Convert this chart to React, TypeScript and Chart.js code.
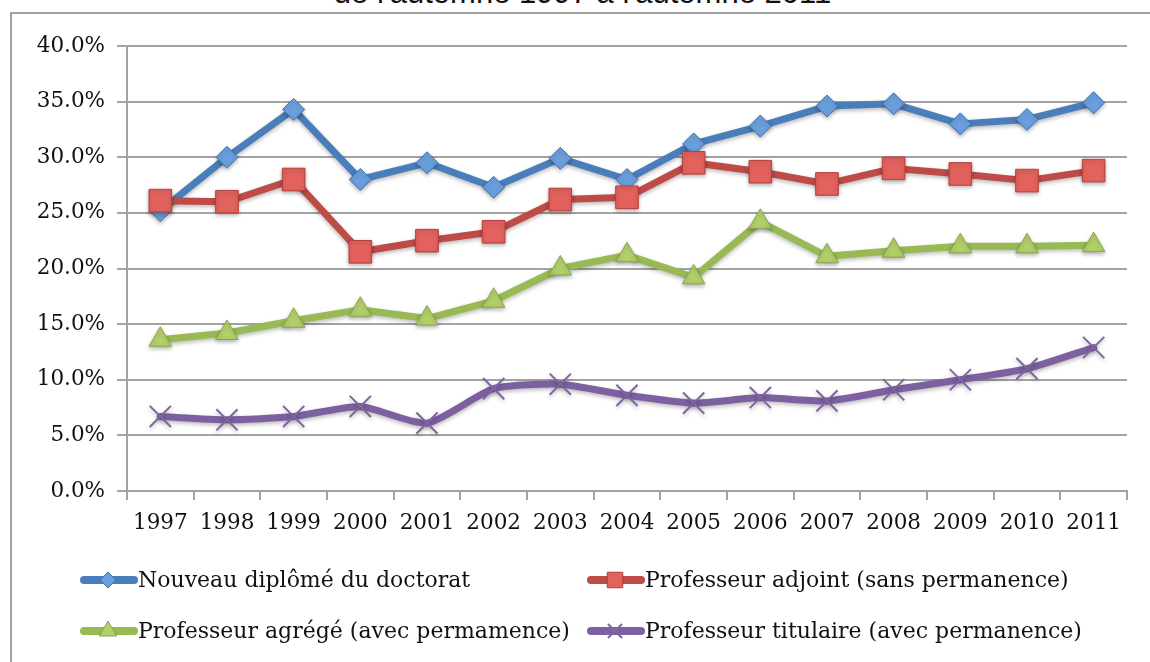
import { useEffect, useRef } from 'react';
import { Chart, registerables } from 'chart.js';
import { drawPoint } from 'chart.js/helpers';

Chart.register(...registerables);

const years = ['1997', '1998', '1999', '2000', '2001', '2002', '2003', '2004', '2005', '2006', '2007', '2008', '2009', '2010', '2011'];
const nouveauDiplome = [25.2, 30.0, 34.3, 28.0, 29.5, 27.3, 29.9, 28.0, 31.2, 32.8, 34.6, 34.8, 33.0, 33.4, 34.9];
const profAdjoint = [26.1, 26.0, 28.0, 21.5, 22.5, 23.3, 26.2, 26.4, 29.5, 28.7, 27.6, 29.0, 28.5, 27.9, 28.8];
const profAgrege = [13.6, 14.2, 15.3, 16.3, 15.5, 17.1, 20.0, 21.2, 19.2, 24.2, 21.1, 21.6, 22.0, 22.0, 22.1];
const profTitulaire = [6.7, 6.4, 6.7, 7.6, 6.1, 9.2, 9.6, 8.6, 7.9, 8.4, 8.1, 9.1, 10.0, 11.0, 12.9];

const seriesNames = [
  'Nouveau diplômé du doctorat',
  'Professeur adjoint (sans permanence)',
  'Professeur agrégé (avec permamence)',
  'Professeur titulaire (avec permanence)',
];
const yTicks = { min: 0, max: 40, step: 5 };
const titleText = "de l'automne 1997 à l'automne 2011";

const GRID = '#a3a3a3';
const FONT_FAMILY = '"DejaVu Serif", serif';
const FONT_SIZE = 21.5;
const LEGEND_FONT_SIZE = 22;
const TEXT = '#111111';

const legendSlots = [
  { x: 80, y: 580 },
  { x: 587, y: 580 },
  { x: 80, y: 631 },
  { x: 587, y: 631 },
];
const legendMarkerRadius = [8, 11, 10, 10];

const legendPlugin = {
  id: 'gridLegend',
  afterDraw(chart: any) {
    const ctx = chart.ctx as CanvasRenderingContext2D;
    chart.data.datasets.forEach((ds: any, i: number) => {
      const slot = legendSlots[i];
      if (!slot) return;
      const x0 = slot.x;
      const x1 = slot.x + 54;
      ctx.save();
      ctx.strokeStyle = ds.borderColor;
      ctx.lineWidth = 8;
      ctx.lineCap = 'round';
      ctx.beginPath();
      ctx.moveTo(x0 + 4, slot.y);
      ctx.lineTo(x1, slot.y);
      ctx.stroke();
      ctx.restore();
      ctx.save();
      ctx.fillStyle = ds.pointBackgroundColor;
      ctx.strokeStyle = ds.pointBorderColor;
      ctx.lineWidth = ds.pointBorderWidth;
      drawPoint(ctx, { pointStyle: ds.pointStyle, radius: legendMarkerRadius[i], borderWidth: ds.pointBorderWidth, rotation: 0 } as any, (x0 + x1) / 2 + 1, slot.y);
      ctx.restore();
      ctx.save();
      ctx.fillStyle = TEXT;
      ctx.font = `${LEGEND_FONT_SIZE}px ${FONT_FAMILY}`;
      ctx.textBaseline = 'middle';
      ctx.textAlign = 'left';
      ctx.fillText(ds.label, x1 + 4, slot.y + 1);
      ctx.restore();
    });
  },
};

const shadowPlugin = {
  id: 'lineShadow',
  beforeDatasetsDraw(chart: any) {
    const ctx = chart.ctx as CanvasRenderingContext2D;
    ctx.save();
    ctx.shadowColor = 'rgba(0,0,0,0.28)';
    ctx.shadowBlur = 4;
    ctx.shadowOffsetY = 2;
    ctx.shadowOffsetX = 0;
  },
  afterDatasetsDraw(chart: any) {
    chart.ctx.restore();
  },
};

export default function App() {
  const ref = useRef<HTMLCanvasElement>(null);

  useEffect(() => {
    const font = { family: FONT_FAMILY, size: FONT_SIZE };
    const chart = new Chart(ref.current!, {
      type: 'line',
      data: {
        labels: years,
        datasets: [
          {
            label: seriesNames[0],
            data: nouveauDiplome,
            borderColor: '#4A7EBB',
            borderWidth: 7,
            pointStyle: 'rectRot',
            pointRadius: 11,
            pointBackgroundColor: '#6A9EDC',
            pointBorderColor: '#3F72AE',
            pointBorderWidth: 1,
            order: 4,
          },
          {
            label: seriesNames[1],
            data: profAdjoint,
            borderColor: '#BE4B48',
            borderWidth: 7,
            pointStyle: 'rect',
            pointRadius: 16,
            pointBackgroundColor: '#E3625E',
            pointBorderColor: '#B53F3C',
            pointBorderWidth: 1,
            order: 3,
          },
          {
            label: seriesNames[2],
            data: profAgrege,
            borderColor: '#98B954',
            borderWidth: 7,
            pointStyle: 'triangle',
            pointRadius: 13,
            pointBackgroundColor: '#B2D06A',
            pointBorderColor: '#89A84A',
            pointBorderWidth: 1,
            order: 2,
          },
          {
            label: seriesNames[3],
            data: profTitulaire,
            borderColor: '#7D60A0',
            borderWidth: 7,
            pointStyle: 'crossRot',
            pointRadius: 15,
            pointBackgroundColor: '#8064A2',
            pointBorderColor: '#8064A2',
            pointBorderWidth: 2,
            tension: 0.2,
            order: 1,
          },
        ].map((d) => ({ ...d, fill: false, borderJoinStyle: 'round' as const, borderCapStyle: 'round' as const, pointHoverRadius: d.pointRadius })),
      },
      options: {
        animation: false,
        responsive: false,
        maintainAspectRatio: false,
        layout: { padding: { left: 0, right: 23, top: 46, bottom: 111 } },
        plugins: {
          legend: { display: false },
          tooltip: { enabled: false },
          title: { display: false },
        },
        scales: {
          x: {
            offset: true,
            grid: {
              display: true,
              drawOnChartArea: false,
              drawTicks: true,
              tickLength: 9,
              offset: true,
              color: GRID,
              lineWidth: 2,
            },
            border: { display: true, color: GRID, width: 2 },
            ticks: { font, color: TEXT, padding: 11, maxRotation: 0, autoSkip: false },
            afterFit: (s: any) => {
              s.height = 60;
            },
          },
          y: {
            min: yTicks.min,
            max: yTicks.max,
            grid: { color: GRID, lineWidth: 2, tickLength: 10, drawTicks: true },
            border: { display: true, color: GRID, width: 2 },
            ticks: {
              stepSize: yTicks.step,
              padding: 12,
              font,
              color: TEXT,
              callback: (v: any) => Number(v).toFixed(1) + '%',
            },
            afterFit: (s: any) => {
              s.width = 127;
            },
          },
        },
      },
      plugins: [shadowPlugin, legendPlugin],
    });
    return () => chart.destroy();
  }, []);

  return (
    <div
      style={{
        position: 'fixed',
        left: 0,
        top: 0,
        width: 1150,
        height: 662,
        overflow: 'hidden',
        background: '#ffffff',
      }}
    >
      <div
        style={{
          position: 'absolute',
          left: 10,
          top: 12,
          width: 1200,
          height: 700,
          borderTop: '2px solid #a0a0a0',
          borderLeft: '2px solid #a0a0a0',
          boxSizing: 'border-box',
        }}
      />
      <div
        style={{
          position: 'absolute',
          left: 0,
          width: 1165,
          top: -22,
          height: 30,
          lineHeight: '30px',
          textAlign: 'center',
          fontFamily: '"Liberation Sans", Arial, sans-serif',
          fontSize: 31,
          color: '#111',
          whiteSpace: 'nowrap',
        }}
      >
        {titleText}
      </div>
      <canvas
        ref={ref}
        width={1150}
        height={662}
        style={{ position: 'absolute', left: 0, top: 0, width: 1150, height: 662, display: 'block' }}
      />
    </div>
  );
}
